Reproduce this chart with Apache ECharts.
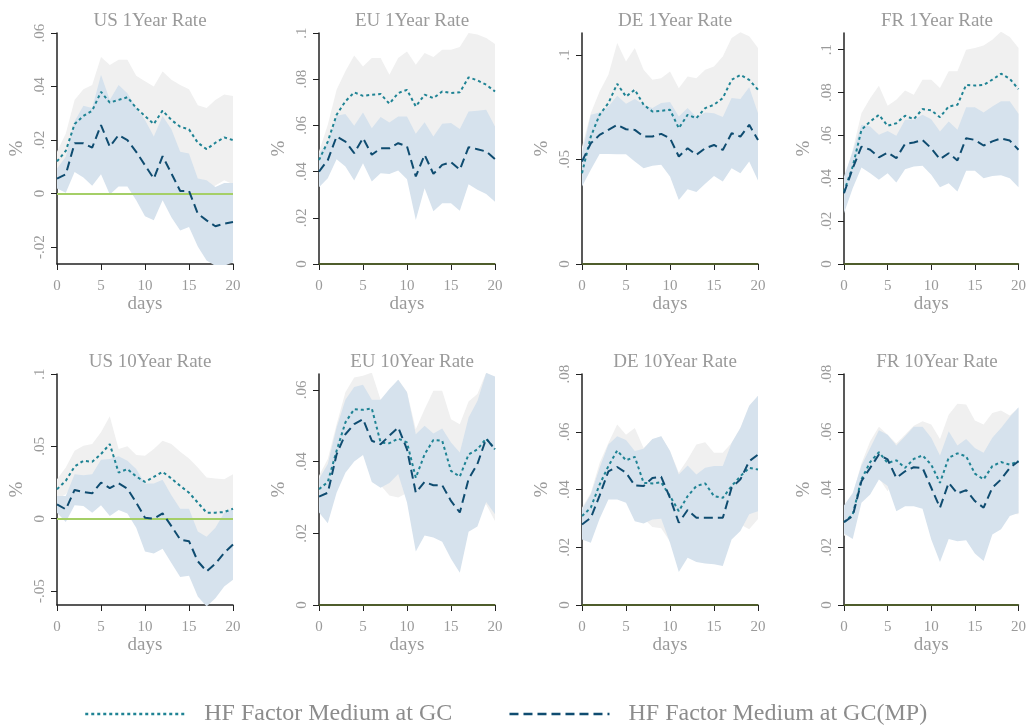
<!DOCTYPE html>
<html>
<head>
<meta charset="utf-8">
<script src="https://cdn.jsdelivr.net/npm/echarts@6/dist/echarts.min.js"></script>
<style>
html,body{margin:0;padding:0;background:#fff;}
#chart{width:1029px;height:726px;}
</style>
</head>
<body>
<div id="chart"></div>
<script>
// ---------- data ----------
const days = ['0','1','2','3','4','5','6','7','8','9','10','11','12','13','14','15','16','17','18','19','20'];
const titles = ['US 1Year Rate','EU 1Year Rate','DE 1Year Rate','FR 1Year Rate','US 10Year Rate','EU 10Year Rate','DE 10Year Rate','FR 10Year Rate'];
const seriesNames = ['HF Factor Medium at GC','HF Factor Medium at GC(MP)'];

// y-axis ranges and tick labels
const yMin = [-0.0263, 0, 0, 0, -0.0596, 0, 0, 0];
const yMax = [0.06, 0.1, 0.1104, 0.1078, 0.1, 0.0644, 0.08, 0.08];
const yTicks = [
  [-0.02, 0, 0.02, 0.04, 0.06],
  [0, 0.02, 0.04, 0.06, 0.08, 0.1],
  [0, 0.05, 0.1],
  [0, 0.02, 0.04, 0.06, 0.08, 0.1],
  [-0.05, 0, 0.05, 0.1],
  [0, 0.02, 0.04, 0.06],
  [0, 0.02, 0.04, 0.06, 0.08],
  [0, 0.02, 0.04, 0.06, 0.08]
];

// US 1Year
const us1_gc    = [0.012,0.016,0.026,0.029,0.031,0.038,0.034,0.035,0.036,0.032,0.029,0.026,0.031,0.0275,0.025,0.024,0.019,0.0166,0.019,0.021,0.020];
const us1_gc_hi = [0.0156,0.0225,0.035,0.039,0.0406,0.051,0.048,0.050,0.050,0.044,0.042,0.040,0.0456,0.0425,0.0406,0.039,0.033,0.032,0.035,0.037,0.0365];
const us1_gc_lo = [0.0084,0.0095,0.017,0.019,0.0214,0.025,0.020,0.020,0.022,0.020,0.016,0.012,0.0164,0.0125,0.0094,0.009,0.005,0.0012,0.003,0.005,0.0035];
const us1_mp    = [0.0056,0.0072,0.0188,0.0188,0.0172,0.0256,0.0175,0.0219,0.020,0.0156,0.0106,0.0056,0.014,0.0075,0.001,0.001,-0.0075,-0.010,-0.0122,-0.0112,-0.0106];
const us1_mp_hi = [0.0094,0.0138,0.027,0.0328,0.032,0.0444,0.035,0.0406,0.0375,0.032,0.0275,0.0213,0.029,0.024,0.0156,0.015,0.0056,0.005,0.0025,0.004,0.004];
const us1_mp_lo = [0.0019,0.0003,0.0081,0.006,0.0029,0.0072,-0.0003,0.0027,0.0027,-0.0025,-0.0085,-0.010,-0.0025,-0.0088,-0.0138,-0.0125,-0.0198,-0.025,-0.027,-0.027,-0.0256];

// EU 1Year
const eu1_gc    = [0.045,0.053,0.0646,0.0704,0.0743,0.0728,0.0733,0.0736,0.0694,0.074,0.0754,0.0682,0.0733,0.0718,0.0747,0.074,0.0743,0.0808,0.0795,0.0776,0.0747];
const eu1_gc_hi = [0.0487,0.0603,0.0754,0.0834,0.0903,0.0855,0.0892,0.0892,0.0819,0.0892,0.092,0.0863,0.0913,0.0896,0.0928,0.0928,0.0939,0.1,0.0993,0.0978,0.0952];
const eu1_gc_lo = [0.0413,0.0457,0.0538,0.0574,0.0583,0.060,0.0574,0.058,0.0569,0.0588,0.0588,0.050,0.0553,0.054,0.0566,0.0552,0.0547,0.0616,0.0597,0.0574,0.0542];
const eu1_mp    = [0.040,0.045,0.0552,0.053,0.048,0.0545,0.0473,0.0501,0.0501,0.0523,0.0509,0.0379,0.0473,0.039,0.0429,0.0441,0.0408,0.0506,0.0497,0.0487,0.0454];
const eu1_mp_hi = [0.048,0.0523,0.0642,0.0649,0.0598,0.0656,0.0588,0.0636,0.0613,0.0639,0.0639,0.0564,0.0614,0.0552,0.0607,0.061,0.0584,0.066,0.0663,0.0668,0.0595];
const eu1_mp_lo = [0.0332,0.0371,0.0454,0.0422,0.0361,0.0436,0.0357,0.0393,0.039,0.0405,0.0367,0.0191,0.0328,0.0228,0.0263,0.0263,0.0231,0.0345,0.0321,0.0303,0.027];

// DE 1Year
const de1_gc    = [0.0434,0.0609,0.0713,0.0769,0.0861,0.080,0.0833,0.0761,0.0729,0.0732,0.0737,0.0649,0.0713,0.0697,0.0745,0.0761,0.0793,0.088,0.0904,0.088,0.0833];
const de1_gc_hi = [0.056,0.0721,0.0825,0.0904,0.1056,0.0968,0.1032,0.0928,0.088,0.0888,0.092,0.084,0.0896,0.0888,0.0928,0.0944,0.0992,0.108,0.1108,0.1088,0.1032];
const de1_gc_lo = [0.038,0.050,0.060,0.063,0.0666,0.063,0.063,0.059,0.058,0.058,0.055,0.046,0.053,0.051,0.056,0.058,0.059,0.068,0.070,0.067,0.063];
const de1_mp    = [0.049,0.0577,0.0617,0.0641,0.0665,0.0644,0.0641,0.0609,0.0609,0.0622,0.0601,0.0514,0.0553,0.0522,0.0553,0.0569,0.0545,0.0625,0.0609,0.0665,0.0593];
const de1_mp_hi = [0.053,0.0713,0.0724,0.0753,0.0804,0.0766,0.0788,0.0761,0.0745,0.0769,0.0774,0.0705,0.0745,0.0702,0.0724,0.0721,0.0702,0.0793,0.0788,0.0845,0.0721];
const de1_mp_lo = [0.037,0.045,0.0526,0.0526,0.0525,0.0525,0.049,0.0458,0.0469,0.0474,0.0418,0.0306,0.0357,0.0344,0.0383,0.0421,0.0394,0.0458,0.0434,0.049,0.0399];

// FR 1Year
const fr1_gc    = [0.0338,0.0455,0.0626,0.0665,0.0696,0.0645,0.0657,0.0692,0.0676,0.0723,0.0717,0.0685,0.0735,0.0743,0.0836,0.0833,0.0836,0.086,0.0888,0.0864,0.0816];
const fr1_gc_hi = [0.0385,0.0533,0.0704,0.0774,0.0832,0.0738,0.0766,0.081,0.079,0.086,0.086,0.0821,0.0899,0.0899,0.1,0.1008,0.102,0.1047,0.1084,0.1059,0.1008];
const fr1_gc_lo = [0.029,0.0377,0.0548,0.0556,0.056,0.0552,0.0548,0.0574,0.0562,0.0586,0.0574,0.0549,0.0571,0.0587,0.0672,0.0658,0.0652,0.0673,0.0692,0.0669,0.0624];
const fr1_mp    = [0.033,0.0447,0.0548,0.0533,0.0498,0.052,0.0494,0.0561,0.0567,0.0579,0.054,0.0489,0.0517,0.0483,0.0587,0.0579,0.0553,0.0572,0.0586,0.0576,0.0533];
const fr1_mp_hi = [0.0408,0.0525,0.065,0.0642,0.0603,0.0621,0.0598,0.0673,0.0673,0.0696,0.0676,0.0618,0.0665,0.0626,0.0732,0.0732,0.0707,0.0735,0.0759,0.0759,0.0701];
const fr1_mp_lo = [0.0237,0.0354,0.045,0.0424,0.0393,0.0424,0.038,0.0442,0.0455,0.0458,0.0416,0.0358,0.0377,0.0338,0.0435,0.0435,0.04,0.0411,0.0414,0.04,0.0358];

// US 10Year
const us10_gc    = [0.0204,0.0262,0.0361,0.040,0.0394,0.0447,0.0516,0.0319,0.0343,0.0292,0.0255,0.0289,0.0324,0.0278,0.0227,0.018,0.0111,0.0042,0.0042,0.0046,0.0069];
const us10_gc_hi = [0.0273,0.0354,0.047,0.0505,0.0516,0.0597,0.0708,0.0481,0.05,0.044,0.0435,0.0481,0.0539,0.0516,0.0463,0.0417,0.0354,0.0285,0.0278,0.0273,0.0308];
const us10_gc_lo = [0.0135,0.017,0.025,0.0295,0.027,0.030,0.032,0.016,0.019,0.0144,0.0075,0.0097,0.011,0.004,-0.001,-0.0057,-0.0132,-0.020,-0.019,-0.018,-0.017];
const us10_mp    = [0.010,0.0065,0.0199,0.0185,0.0176,0.025,0.0211,0.0245,0.0208,0.0111,0.0007,0.0,0.0037,-0.0051,-0.0144,-0.0155,-0.0294,-0.0363,-0.031,-0.0236,-0.0178];
const us10_mp_hi = [0.0157,0.0157,0.0308,0.0301,0.0308,0.0407,0.0412,0.0431,0.04,0.0343,0.0243,0.0243,0.0269,0.0162,0.0069,0.0069,-0.0088,-0.0125,-0.0063,0.0042,0.0069];
const us10_mp_lo = [0.0042,-0.0023,0.0093,0.0088,0.0042,0.0093,0.0019,0.006,0.0037,-0.0063,-0.0227,-0.0241,-0.0208,-0.0306,-0.0403,-0.0394,-0.0537,-0.0606,-0.0549,-0.0468,-0.0421];

// EU 10Year
const eu10_gc    = [0.0323,0.0343,0.043,0.0509,0.0546,0.0544,0.0548,0.0453,0.0451,0.0464,0.0453,0.0355,0.042,0.046,0.0458,0.0374,0.0358,0.042,0.0434,0.0464,0.0434];
const eu10_gc_hi = [0.036,0.0407,0.0504,0.0593,0.0634,0.0639,0.0648,0.0572,0.0597,0.0628,0.0594,0.049,0.0546,0.0597,0.0597,0.0518,0.0504,0.0567,0.0588,0.0648,0.0634];
const eu10_gc_lo = [0.0286,0.028,0.0356,0.0425,0.0458,0.045,0.0448,0.0334,0.0305,0.030,0.0312,0.022,0.0294,0.0323,0.0319,0.023,0.0212,0.0273,0.028,0.028,0.0234];
const eu10_mp    = [0.0302,0.0313,0.042,0.0476,0.0504,0.0518,0.0458,0.0448,0.0472,0.0495,0.0434,0.0313,0.0343,0.0334,0.0334,0.029,0.0258,0.0351,0.0393,0.0464,0.0434];
const eu10_mp_hi = [0.0351,0.0393,0.0495,0.0572,0.0608,0.0614,0.0572,0.0572,0.0602,0.0628,0.0593,0.0476,0.05,0.0478,0.0492,0.0453,0.0425,0.0523,0.0569,0.0647,0.0637];
const eu10_mp_lo = [0.0258,0.0228,0.0313,0.0369,0.04,0.0418,0.0343,0.0327,0.034,0.0365,0.0286,0.0149,0.0194,0.0188,0.0176,0.0129,0.009,0.0204,0.0219,0.0287,0.0253];

// DE 10Year
const de10_gc    = [0.0308,0.0337,0.0417,0.0481,0.0535,0.0501,0.0513,0.0423,0.0421,0.0425,0.0377,0.0325,0.0377,0.0412,0.0421,0.0377,0.0371,0.0412,0.0446,0.0475,0.0469];
const de10_gc_hi = [0.0337,0.0388,0.0492,0.0561,0.0625,0.059,0.0613,0.0544,0.0573,0.0584,0.0533,0.0458,0.0504,0.0556,0.0564,0.0527,0.0527,0.0561,0.0613,0.0688,0.0723];
const de10_gc_lo = [0.028,0.0286,0.0342,0.040,0.0445,0.0412,0.0413,0.030,0.027,0.0266,0.022,0.019,0.025,0.0268,0.0278,0.0227,0.0215,0.0263,0.0279,0.0262,0.0298];
const de10_mp    = [0.0279,0.0302,0.0379,0.0463,0.0478,0.0458,0.0414,0.0412,0.044,0.0444,0.0371,0.0285,0.0329,0.0302,0.0302,0.0302,0.0302,0.0406,0.0435,0.0498,0.0521];
const de10_mp_hi = [0.0331,0.0383,0.0475,0.0556,0.0584,0.0571,0.0533,0.0541,0.0575,0.0584,0.0533,0.0452,0.0483,0.0452,0.0475,0.0481,0.0481,0.0561,0.0613,0.069,0.0725];
const de10_mp_lo = [0.0227,0.0216,0.0299,0.0365,0.0365,0.0354,0.029,0.0282,0.0296,0.0299,0.0216,0.0114,0.0164,0.0149,0.0144,0.0141,0.0135,0.0227,0.0256,0.0314,0.0325];

// FR 10Year
const fr10_gc    = [0.0287,0.0314,0.0435,0.0495,0.0529,0.0492,0.0501,0.0475,0.0506,0.0518,0.0486,0.0423,0.051,0.0525,0.0515,0.0455,0.0435,0.0481,0.0495,0.0486,0.0498];
const fr10_gc_hi = [0.0342,0.0383,0.049,0.0567,0.0617,0.059,0.0559,0.059,0.0621,0.0636,0.0625,0.0575,0.0659,0.0697,0.0694,0.0639,0.0625,0.0665,0.0674,0.0656,0.0682];
const fr10_gc_lo = [0.024,0.0245,0.038,0.0423,0.044,0.0394,0.0443,0.036,0.039,0.040,0.0347,0.027,0.036,0.0353,0.0336,0.0271,0.0245,0.0297,0.0316,0.0316,0.0314];
const fr10_mp    = [0.0287,0.0308,0.0429,0.0475,0.0521,0.0504,0.044,0.0463,0.0477,0.0475,0.0406,0.0337,0.0423,0.0386,0.0398,0.036,0.0337,0.0406,0.0435,0.0475,0.0498];
const fr10_mp_hi = [0.0345,0.0388,0.0483,0.0544,0.0605,0.059,0.0552,0.0584,0.0617,0.0617,0.0579,0.0518,0.0602,0.0552,0.0575,0.0544,0.0527,0.0579,0.0613,0.0651,0.0685];
const fr10_mp_lo = [0.0248,0.0229,0.0354,0.0383,0.0435,0.0412,0.0325,0.0342,0.0342,0.0333,0.0227,0.0149,0.0229,0.0221,0.0224,0.0178,0.0152,0.0244,0.0262,0.0308,0.0319];

const panels = [
  [us1_gc, us1_gc_hi, us1_gc_lo, us1_mp, us1_mp_hi, us1_mp_lo],
  [eu1_gc, eu1_gc_hi, eu1_gc_lo, eu1_mp, eu1_mp_hi, eu1_mp_lo],
  [de1_gc, de1_gc_hi, de1_gc_lo, de1_mp, de1_mp_hi, de1_mp_lo],
  [fr1_gc, fr1_gc_hi, fr1_gc_lo, fr1_mp, fr1_mp_hi, fr1_mp_lo],
  [us10_gc, us10_gc_hi, us10_gc_lo, us10_mp, us10_mp_hi, us10_mp_lo],
  [eu10_gc, eu10_gc_hi, eu10_gc_lo, eu10_mp, eu10_mp_hi, eu10_mp_lo],
  [de10_gc, de10_gc_hi, de10_gc_lo, de10_mp, de10_mp_hi, de10_mp_lo],
  [fr10_gc, fr10_gc_hi, fr10_gc_lo, fr10_mp, fr10_mp_hi, fr10_mp_lo]
];

// ---------- layout / style ----------
const FONT = '"Liberation Serif", "DejaVu Serif", serif';
const GRAY_TXT = '#9a9a9a';
const TEAL = '#1f8394';
const NAVY = '#0f4c70';
const GRAY_BAND = '#f0f0f0';
const BLUE_BAND = '#d6e2ed';
const ZERO_GREEN = '#a5cf67';
const ZERO_OLIVE = '#4f5d2c';
const colLeft = [57, 319, 582, 844];
const rowTop = [33, 374];
const gridW = 176, gridH = 231;

function fmt(v) {
  if (Math.abs(v) < 1e-12) return '0';
  return String(+v.toFixed(4)).replace('0.', '.');
}

const grids = [], xAxes = [], yAxes = [], series = [], titleArr = [];
for (let i = 0; i < 8; i++) {
  const r = Math.floor(i / 4), c = i % 4;
  grids.push({left: colLeft[c], top: rowTop[r], width: gridW, height: gridH});
  titleArr.push({
    text: titles[i], left: colLeft[c] + gridW / 2, top: rowTop[r] - 26, textAlign: 'center',
    textStyle: {fontFamily: FONT, fontSize: 19, fontWeight: 'normal', color: GRAY_TXT}
  });
  const zeroAtBottom = yMin[i] === 0;
  xAxes.push({
    gridIndex: i, type: 'category', data: days, boundaryGap: false,
    name: 'days', nameLocation: 'middle', nameGap: 25,
    nameTextStyle: {fontFamily: FONT, fontSize: 19, color: GRAY_TXT},
    axisLine: {onZero: false, lineStyle: {color: zeroAtBottom ? ZERO_OLIVE : '#222', width: 1.5}},
    axisTick: {interval: 4, length: 6, lineStyle: {color: '#222'}},
    axisLabel: {interval: 4, margin: 15, fontFamily: FONT, fontSize: 15, color: GRAY_TXT},
    splitLine: {show: false}
  });
  yAxes.push({
    gridIndex: i, type: 'value', min: yMin[i], max: yMax[i],
    name: '%', nameLocation: 'middle', nameGap: 30, nameRotate: 90,
    nameTextStyle: {fontFamily: FONT, fontSize: 19, color: GRAY_TXT},
    axisLine: {show: true, lineStyle: {color: '#222', width: 1.5}},
    axisTick: {show: true, length: 6, customValues: yTicks[i], lineStyle: {color: '#222'}},
    axisLabel: {rotate: 90, margin: 9, customValues: yTicks[i], formatter: fmt,
      fontFamily: FONT, fontSize: 15, color: GRAY_TXT},
    splitLine: {show: false}
  });
  const [gc, gcHi, gcLo, mp, mpHi, mpLo] = panels[i];
  const base = {xAxisIndex: i, yAxisIndex: i, type: 'line', symbol: 'none', showSymbol: false, animation: false};
  // gray band (GC)
  series.push(Object.assign({}, base, {name: 'gcLo', stack: 'g' + i, stackStrategy: 'all', data: gcLo, lineStyle: {opacity: 0}, z: 1, silent: true}));
  series.push(Object.assign({}, base, {name: 'gcBand', stack: 'g' + i, stackStrategy: 'all',
    data: gcHi.map((v, k) => +(v - gcLo[k]).toFixed(6)), lineStyle: {opacity: 0},
    areaStyle: {color: GRAY_BAND, opacity: 1}, z: 1, silent: true}));
  // blue band (MP)
  series.push(Object.assign({}, base, {name: 'mpLo', stack: 'b' + i, stackStrategy: 'all', data: mpLo, lineStyle: {opacity: 0}, z: 2, silent: true}));
  series.push(Object.assign({}, base, {name: 'mpBand', stack: 'b' + i, stackStrategy: 'all',
    data: mpHi.map((v, k) => +(v - mpLo[k]).toFixed(6)), lineStyle: {opacity: 0},
    areaStyle: {color: BLUE_BAND, opacity: 1}, z: 2, silent: true}));
  // zero line
  series.push(Object.assign({}, base, {name: 'zero', data: [], z: 3, silent: true,
    markLine: {silent: true, symbol: 'none', label: {show: false}, animation: false,
      lineStyle: {color: zeroAtBottom ? ZERO_OLIVE : ZERO_GREEN, width: 1.8, type: 'solid'}, data: [{yAxis: 0}]}}));
  // lines
  series.push(Object.assign({}, base, {name: seriesNames[0], data: gc, z: 4,
    lineStyle: {color: TEAL, width: 2, type: [3, 3]}, itemStyle: {color: TEAL}}));
  series.push(Object.assign({}, base, {name: seriesNames[1], data: mp, z: 5,
    lineStyle: {color: NAVY, width: 2, type: [9, 5]}, itemStyle: {color: NAVY}}));
}

const chart = echarts.init(document.getElementById('chart'), null, {renderer: 'canvas'});
chart.setOption({
  backgroundColor: '#fff',
  animation: false,
  title: titleArr,
  grid: grids,
  xAxis: xAxes,
  yAxis: yAxes,
  legend: {
    show: true,
    data: seriesNames, left: 79, top: 697, itemWidth: 100, itemHeight: 14, itemGap: 56,
    selectedMode: false,
    itemStyle: {opacity: 0},
    lineStyle: {width: 2.5},
    textStyle: {fontFamily: FONT, fontSize: 24, color: '#8c8c8c', padding: [0, 0, 0, 14]}
  },
  series: series
});
</script>
</body>
</html>
